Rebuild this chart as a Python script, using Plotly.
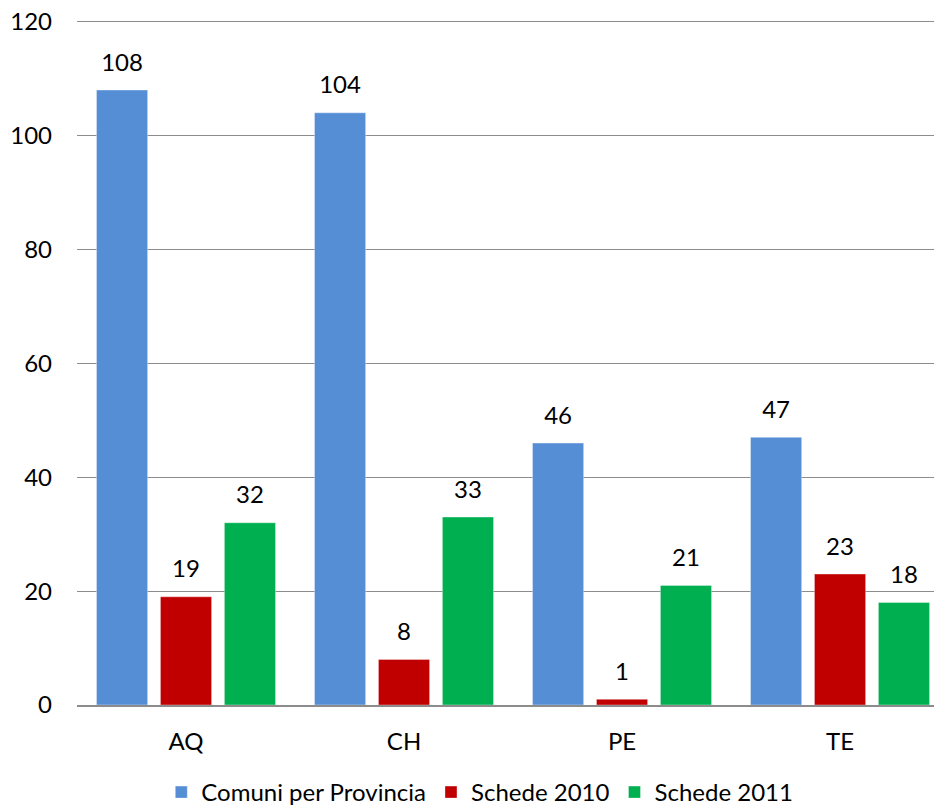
import plotly.graph_objects as go

categories = ["AQ", "CH", "PE", "TE"]
series_names = ["Comuni per Provincia", "Schede 2010", "Schede 2011"]
comuni = [108, 104, 46, 47]
schede_2010 = [19, 8, 1, 23]
schede_2011 = [32, 33, 21, 18]
colors = ["#558ED5", "#C00000", "#00B050"]
y_ticks = [0, 20, 40, 60, 80, 100, 120]

FONT = "Lato"
FS = 24
fig = go.Figure()
for i, (name, vals) in enumerate(zip(series_names, [comuni, schede_2010, schede_2011])):
    fig.add_trace(go.Bar(
        x=categories, y=vals, name=name, offsetgroup=str(i),
        marker=dict(color=colors[i], line=dict(width=0.6, color="rgba(255,255,255,0.6)")),
    ))
for i, vals in enumerate([comuni, schede_2010, schede_2011]):
    fig.add_trace(go.Scatter(
        x=categories, y=vals, mode="markers+text", text=[str(v) for v in vals],
        textposition="top center", offsetgroup=str(i),
        marker=dict(size=20, opacity=0), showlegend=False, hoverinfo="skip",
        textfont=dict(family=FONT, size=FS, color="#000000"), cliponaxis=False,
    ))

fig.update_layout(
    width=934, height=806,
    margin=dict(l=77, r=0, t=16, b=101, autoexpand=False),
    paper_bgcolor="white", plot_bgcolor="white",
    barmode="group", bargap=0.12, bargroupgap=0.2, scattermode="group", scattergap=0.12,
    font=dict(family=FONT, size=FS, color="#000000"),
    showlegend=True,
    legend=dict(orientation="h", x=0.47, xanchor="center", y=-0.127, yanchor="middle",
                font=dict(family=FONT, size=FS, color="#000000"), itemwidth=30,
                traceorder="normal"),
    xaxis=dict(range=[-0.5, 3.431], showgrid=False, showline=True, linecolor="#8C8C8C",
               linewidth=1.5, ticks="", ticklabelstandoff=14, tickfont=dict(size=FS),
               ticklabeloverflow="allow"),
    yaxis=dict(range=[0, 121], tickvals=y_ticks, showgrid=True, gridcolor="#8C8C8C",
               gridwidth=1.3, zeroline=False, showline=False, ticks="",
               ticklabelstandoff=24, tickfont=dict(size=FS), ticklabeloverflow="allow"),
)
fig.write_html("out.html", config={"displayModeBar": False},
               post_script="document.body.style.margin='0';document.body.style.overflow='hidden';")
